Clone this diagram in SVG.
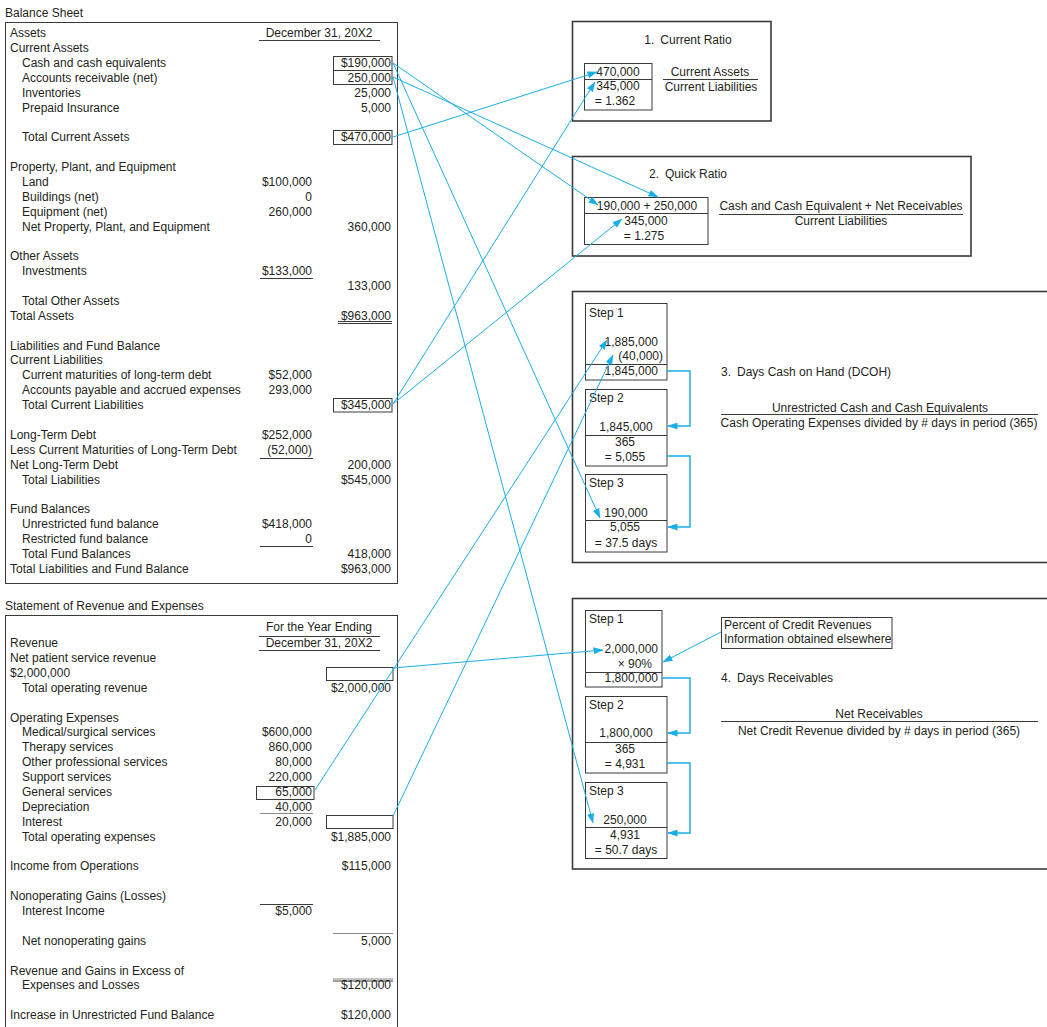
<svg xmlns="http://www.w3.org/2000/svg" width="1047" height="1027" viewBox="0 0 1047 1027">
  <style>
    text { font-family: "Liberation Sans", Arial, Helvetica, sans-serif; font-size: 12px; fill: #231f20; }
    .r { text-anchor: end; }
    .m { text-anchor: middle; }
    .frame { fill: none; stroke: #3a3a3a; stroke-width: 1.6; }
    .box { fill: none; stroke: #3a3a3a; stroke-width: 1; }
    .rule { stroke: #3a3a3a; stroke-width: 1; fill: none; }
    .grey { stroke: #8a8a8a; stroke-width: 1.2; fill: none; }
    .link { stroke: #1aaee6; stroke-width: 1; fill: none; marker-end: url(#tip); }
    .step { stroke: #1aaee6; stroke-width: 1.5; fill: none; marker-end: url(#tip); }
  </style>
  <defs>
    <marker id="tip" markerUnits="userSpaceOnUse" markerWidth="10" markerHeight="7" refX="9.5" refY="3.5" orient="auto">
      <path d="M0,0 L10,3.5 L0,7 Z" fill="#1aaee6"/>
    </marker>
  </defs>

  <rect width="1047" height="1027" fill="#ffffff"/>

  <!-- Balance sheet -->
  <g id="balance-sheet">
    <text x="5" y="17">Balance Sheet</text>
    <rect class="box" x="5.5" y="22.5" width="392" height="561"/>
    <text x="10" y="37">Assets</text>
    <text class="m" x="319" y="37">December 31, 20X2</text>
    <line class="rule" x1="259" y1="40.5" x2="380" y2="40.5"/>
    <text x="10" y="52">Current Assets</text>
    <text x="22" y="67">Cash and cash equivalents</text>
    <text class="r" x="391" y="67">$190,000</text>
    <rect class="box" x="333.5" y="56.5" width="58.5" height="14"/>
    <text x="22" y="82">Accounts receivable (net)</text>
    <text class="r" x="391" y="82">250,000</text>
    <rect class="box" x="333.5" y="70.5" width="58.5" height="14"/>
    <text x="22" y="97">Inventories</text>
    <text class="r" x="391" y="97">25,000</text>
    <text x="22" y="112">Prepaid Insurance</text>
    <text class="r" x="391" y="112">5,000</text>
    <text x="22" y="141">Total Current Assets</text>
    <text class="r" x="391" y="141">$470,000</text>
    <rect class="box" x="333.5" y="130.5" width="58.5" height="14"/>

    <text x="10" y="171">Property, Plant, and Equipment</text>
    <text x="22" y="186">Land</text>
    <text class="r" x="312" y="186">$100,000</text>
    <text x="22" y="201">Buildings (net)</text>
    <text class="r" x="312" y="201">0</text>
    <text x="22" y="216">Equipment (net)</text>
    <text class="r" x="312" y="216">260,000</text>
    <text x="22" y="231">Net Property, Plant, and Equipment</text>
    <text class="r" x="391" y="231">360,000</text>

    <text x="10" y="260">Other Assets</text>
    <text x="22" y="275">Investments</text>
    <text class="r" x="312" y="275">$133,000</text>
    <line class="rule" x1="260" y1="278.5" x2="313" y2="278.5"/>
    <text class="r" x="391" y="290">133,000</text>
    <text x="22" y="305">Total Other Assets</text>
    <text x="10" y="320">Total Assets</text>
    <text class="r" x="391" y="320">$963,000</text>
    <line class="rule" x1="338" y1="321.5" x2="392" y2="321.5"/>
    <line class="rule" x1="338" y1="323.5" x2="392" y2="323.5"/>

    <text x="10" y="350">Liabilities and Fund Balance</text>
    <text x="10" y="364">Current Liabilities</text>
    <text x="22" y="379">Current maturities of long-term debt</text>
    <text class="r" x="312" y="379">$52,000</text>
    <text x="22" y="394">Accounts payable and accrued expenses</text>
    <text class="r" x="312" y="394">293,000</text>
    <text x="22" y="409">Total Current Liabilities</text>
    <text class="r" x="391" y="409">$345,000</text>
    <rect class="box" x="333.5" y="398.5" width="58.5" height="13.5"/>

    <text x="10" y="439">Long-Term Debt</text>
    <text class="r" x="312" y="439">$252,000</text>
    <text x="10" y="454">Less Current Maturities of Long-Term Debt</text>
    <text class="r" x="312" y="454">(52,000)</text>
    <line class="rule" x1="260" y1="458.5" x2="313" y2="458.5"/>
    <text x="10" y="469">Net Long-Term Debt</text>
    <text class="r" x="391" y="469">200,000</text>
    <text x="22" y="484">Total Liabilities</text>
    <text class="r" x="391" y="484">$545,000</text>

    <text x="10" y="513">Fund Balances</text>
    <text x="22" y="528">Unrestricted fund balance</text>
    <text class="r" x="312" y="528">$418,000</text>
    <text x="22" y="543">Restricted fund balance</text>
    <text class="r" x="312" y="543">0</text>
    <line class="rule" x1="260" y1="546.5" x2="313" y2="546.5"/>
    <text x="22" y="558">Total Fund Balances</text>
    <text class="r" x="391" y="558">418,000</text>
    <text x="10" y="573">Total Liabilities and Fund Balance</text>
    <text class="r" x="391" y="573">$963,000</text>
  </g>

  <!-- Statement of revenue and expenses -->
  <g id="revenue-statement">
    <text x="5" y="610">Statement of Revenue and Expenses</text>
    <rect class="box" x="5.5" y="615.5" width="392" height="420"/>
    <text class="m" x="319" y="631">For the Year Ending</text>
    <line class="rule" x1="259" y1="636.5" x2="380" y2="636.5"/>
    <text x="10" y="647">Revenue</text>
    <text class="m" x="319" y="647">December 31, 20X2</text>
    <line class="rule" x1="259" y1="650.5" x2="380" y2="650.5"/>
    <text x="10" y="662">Net patient service revenue</text>
    <text x="10" y="677">$2,000,000</text>
    <rect class="box" x="326.5" y="667.5" width="66.5" height="13"/>
    <text x="22" y="692">Total operating revenue</text>
    <text class="r" x="391" y="692">$2,000,000</text>

    <text x="10" y="722">Operating Expenses</text>
    <text x="22" y="736">Medical/surgical services</text>
    <text class="r" x="312" y="736">$600,000</text>
    <text x="22" y="751">Therapy services</text>
    <text class="r" x="312" y="751">860,000</text>
    <text x="22" y="766">Other professional services</text>
    <text class="r" x="312" y="766">80,000</text>
    <text x="22" y="781">Support services</text>
    <text class="r" x="312" y="781">220,000</text>
    <text x="22" y="796">General services</text>
    <text class="r" x="312" y="796">65,000</text>
    <rect class="box" x="256.5" y="786.5" width="57.5" height="13"/>
    <text x="22" y="811">Depreciation</text>
    <text class="r" x="312" y="811">40,000</text>
    <line class="grey" x1="260" y1="813.5" x2="313" y2="813.5"/>
    <text x="22" y="826">Interest</text>
    <text class="r" x="312" y="826">20,000</text>
    <rect class="box" x="326.5" y="815.5" width="66.5" height="13"/>
    <text x="22" y="841">Total operating expenses</text>
    <text class="r" x="391" y="841">$1,885,000</text>

    <text x="10" y="870">Income from Operations</text>
    <text class="r" x="391" y="870">$115,000</text>

    <text x="10" y="900">Nonoperating Gains (Losses)</text>
    <line class="rule" x1="260" y1="904.5" x2="313" y2="904.5"/>
    <text x="22" y="915">Interest Income</text>
    <text class="r" x="312" y="915">$5,000</text>
    <line class="grey" x1="333" y1="933.5" x2="393" y2="933.5"/>
    <text x="22" y="945">Net nonoperating gains</text>
    <text class="r" x="391" y="945">5,000</text>

    <text x="10" y="975">Revenue and Gains in Excess of</text>
    <line class="grey" x1="333" y1="979" x2="393" y2="979"/>
    <line class="rule" x1="333" y1="981" x2="393" y2="981"/>
    <text x="22" y="989">Expenses and Losses</text>
    <text class="r" x="391" y="989">$120,000</text>

    <text x="10" y="1019">Increase in Unrestricted Fund Balance</text>
    <text class="r" x="391" y="1019">$120,000</text>
  </g>

  <!-- 1. Current ratio -->
  <g id="current-ratio">
    <rect class="frame" x="572.5" y="21.5" width="198.5" height="99.5"/>
    <text class="m" x="688" y="44">1.<tspan dx="6">Current Ratio</tspan></text>
    <rect class="box" x="584.5" y="63.5" width="67.5" height="46.5"/>
    <line class="box" x1="584.5" y1="79.5" x2="652" y2="79.5"/>
    <text class="m" x="618" y="76">470,000</text>
    <text class="m" x="618" y="90">345,000</text>
    <text class="m" x="615" y="105">= 1.362</text>
    <text class="m" x="710" y="76">Current Assets</text>
    <line class="rule" x1="663" y1="79.5" x2="758" y2="79.5"/>
    <text class="m" x="711" y="91">Current Liabilities</text>
  </g>

  <!-- 2. Quick ratio -->
  <g id="quick-ratio">
    <rect class="frame" x="572.5" y="156.5" width="398.5" height="99.5"/>
    <text class="m" x="688" y="178">2.<tspan dx="6">Quick Ratio</tspan></text>
    <rect class="box" x="584.5" y="197.5" width="123.5" height="47"/>
    <line class="box" x1="584.5" y1="213.5" x2="708" y2="213.5"/>
    <text class="m" x="647" y="210">190,000 + 250,000</text>
    <text class="m" x="646" y="225">345,000</text>
    <text class="m" x="644" y="240">= 1.275</text>
    <text class="m" x="841" y="210">Cash and Cash Equivalent + Net Receivables</text>
    <line class="rule" x1="719" y1="214.5" x2="963" y2="214.5"/>
    <text class="m" x="841" y="225">Current Liabilities</text>
  </g>

  <!-- 3. Days cash on hand -->
  <g id="days-cash-on-hand">
    <rect class="frame" x="572.5" y="291.5" width="480" height="271"/>
    <rect class="box" x="585.5" y="303.5" width="81.5" height="76.5"/>
    <line class="box" x1="585.5" y1="364.5" x2="667" y2="364.5"/>
    <text x="589" y="317">Step 1</text>
    <text class="r" x="658" y="346">1,885,000</text>
    <text class="r" x="663" y="360">(40,000)</text>
    <text class="r" x="658" y="375">1,845,000</text>

    <rect class="box" x="585.5" y="389.5" width="81.5" height="76.5"/>
    <line class="box" x1="585.5" y1="435.5" x2="667" y2="435.5"/>
    <text x="589" y="402">Step 2</text>
    <text class="m" x="626" y="431">1,845,000</text>
    <text class="m" x="625" y="446">365</text>
    <text class="m" x="625" y="461">= 5,055</text>

    <rect class="box" x="585.5" y="474.5" width="81.5" height="77.5"/>
    <line class="box" x1="585.5" y1="520.5" x2="667" y2="520.5"/>
    <text x="589" y="487">Step 3</text>
    <text class="m" x="626" y="517">190,000</text>
    <text class="m" x="625" y="531">5,055</text>
    <text class="m" x="626" y="547">= 37.5 days</text>

    <text x="721" y="376">3.<tspan dx="6">Days Cash on Hand (DCOH)</tspan></text>
    <text class="m" x="880" y="412">Unrestricted Cash and Cash Equivalents</text>
    <line class="rule" x1="721" y1="414.5" x2="1038" y2="414.5"/>
    <text class="m" x="879" y="427">Cash Operating Expenses divided by # days in period (365)</text>
  </g>

  <!-- 4. Days receivables -->
  <g id="days-receivables">
    <rect class="frame" x="572.5" y="598.5" width="480" height="270.5"/>
    <rect class="box" x="585.5" y="610.5" width="76.5" height="76.5"/>
    <line class="box" x1="585.5" y1="672.5" x2="662" y2="672.5"/>
    <text x="589" y="623">Step 1</text>
    <text class="r" x="658" y="653">2,000,000</text>
    <text class="r" x="652" y="668">× 90%</text>
    <text class="r" x="658" y="682">1,800,000</text>

    <rect class="box" x="585.5" y="696.5" width="81.5" height="76.5"/>
    <line class="box" x1="585.5" y1="742.5" x2="667" y2="742.5"/>
    <text x="589" y="709">Step 2</text>
    <text class="m" x="626" y="737">1,800,000</text>
    <text class="m" x="625" y="753">365</text>
    <text class="m" x="625" y="768">= 4,931</text>

    <rect class="box" x="585.5" y="782.5" width="81.5" height="76"/>
    <line class="box" x1="585.5" y1="827.5" x2="667" y2="827.5"/>
    <text x="589" y="795">Step 3</text>
    <text class="m" x="625" y="824">250,000</text>
    <text class="m" x="625" y="839">4,931</text>
    <text class="m" x="626" y="854">= 50.7 days</text>

    <text x="721" y="682">4.<tspan dx="6">Days Receivables</tspan></text>
    <text class="m" x="879" y="718">Net Receivables</text>
    <line class="rule" x1="721" y1="721.5" x2="1038" y2="721.5"/>
    <text class="m" x="879" y="735">Net Credit Revenue divided by # days in period (365)</text>
  </g>

  <g id="credit-note">
    <rect class="box" x="721.5" y="617.5" width="170.5" height="31"/>
    <text x="724" y="629">Percent of Credit Revenues</text>
    <text x="724" y="643">Information obtained elsewhere</text>
  </g>

  <!-- Connectors -->
  <g id="connectors">
    <line class="link" x1="393" y1="137" x2="597" y2="72"/>
    <line class="link" x1="393" y1="404" x2="595" y2="82"/>
    <line class="link" x1="393" y1="404" x2="622" y2="219"/>
    <line class="link" x1="393" y1="63" x2="598" y2="205"/>
    <line class="link" x1="393" y1="77" x2="658" y2="197"/>
    <line class="link" x1="393" y1="63" x2="600" y2="518"/>
    <line class="link" x1="393" y1="77" x2="593" y2="823"/>
    <line class="link" x1="393" y1="668" x2="603" y2="650"/>
    <line class="link" x1="315" y1="790" x2="607" y2="340"/>
    <line class="link" x1="393" y1="816" x2="613" y2="355"/>
    <line class="link" x1="721" y1="632" x2="663" y2="662"/>
    <path class="step" d="M667,371 H690 V426 H668"/>
    <path class="step" d="M667,456 H690 V527 H668"/>
    <path class="step" d="M662,678 H690 V733 H668"/>
    <path class="step" d="M667,763 H690 V833 H668"/>
  </g>
</svg>
